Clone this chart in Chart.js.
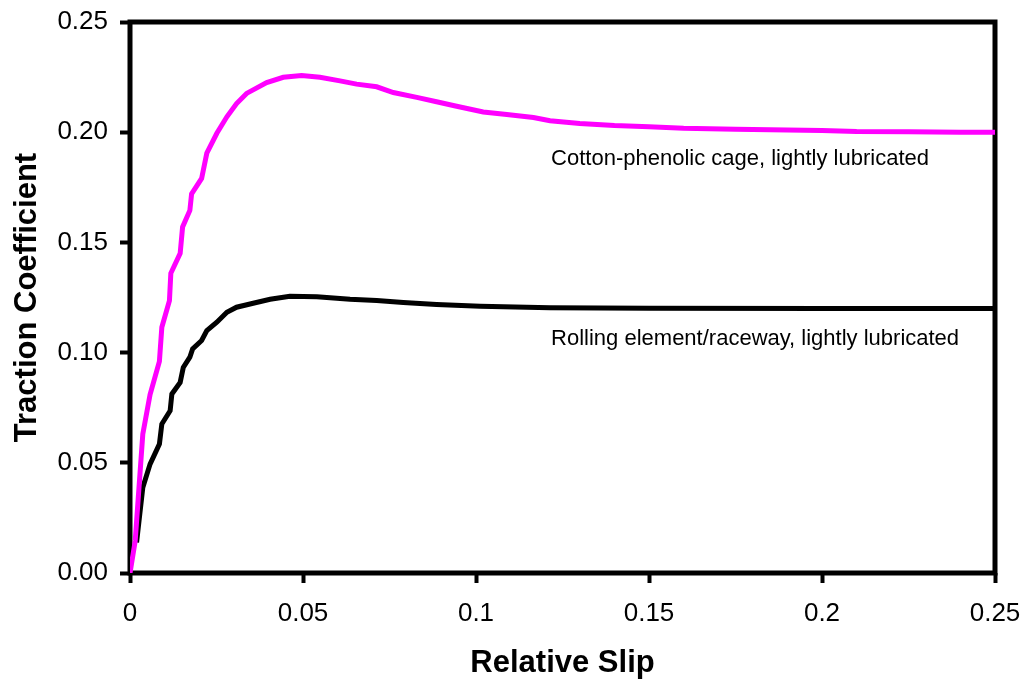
<!DOCTYPE html>
<html>
<head>
<meta charset="utf-8">
<script src="https://cdn.jsdelivr.net/npm/chart.js@4"></script>
<style>
  html, body { margin: 0; padding: 0; background: #fff; }
  #wrap { width: 1026px; height: 682px; }
</style>
</head>
<body>
<div id="wrap"><canvas id="traction"></canvas></div>
<script>
// Traction coefficient vs relative slip
var cageSlip = [0, 0.0015, 0.0037, 0.0058, 0.0085, 0.0092, 0.0114, 0.0118, 0.0145, 0.0152,
    0.0173, 0.0178, 0.0207, 0.0222, 0.0251, 0.028, 0.0308, 0.0337, 0.0395, 0.0443,
    0.0496, 0.0549, 0.0607, 0.0655, 0.0713, 0.0761, 0.0829, 0.0886, 0.0944, 0.1021,
    0.1089, 0.1166, 0.1214, 0.13, 0.14, 0.15, 0.16, 0.175, 0.19, 0.2, 0.21, 0.225, 0.24, 0.25];
var cageTraction = [0, 0.0145, 0.063, 0.081, 0.096, 0.1115, 0.1236, 0.136, 0.145, 0.157,
    0.1645, 0.172, 0.179, 0.1905, 0.1995, 0.207, 0.213, 0.2176, 0.2225, 0.2249,
    0.2257, 0.2249, 0.2233, 0.2218, 0.2206, 0.218, 0.2158, 0.2138, 0.2118, 0.2092,
    0.208, 0.2067, 0.2052, 0.204, 0.203, 0.2025, 0.2018, 0.2013, 0.201, 0.2008, 0.2003, 0.2002, 0.2, 0.2];

var racewaySlip = [0.0019, 0.0037, 0.0058, 0.0085, 0.0092, 0.0116, 0.0121, 0.0145, 0.0154,
    0.0173, 0.0181, 0.0207, 0.0222, 0.0251, 0.028, 0.0308, 0.0356, 0.0405, 0.0462,
    0.054, 0.0636, 0.0713, 0.079, 0.0886, 0.1012, 0.1214, 0.15, 0.2, 0.25];
var racewayTraction = [0.0138, 0.0388, 0.0494, 0.0585, 0.0676, 0.0736, 0.0812, 0.0865, 0.0933,
    0.0979, 0.1017, 0.1055, 0.11, 0.1138, 0.1183, 0.1206, 0.1224, 0.1242, 0.1256,
    0.1253, 0.1242, 0.1236, 0.1227, 0.1218, 0.121, 0.1203, 0.1201, 0.12, 0.12];

var curveLabels = ["Cotton-phenolic cage, lightly lubricated", "Rolling element/raceway, lightly lubricated"];
var labelSlip = [0.1217, 0.1217];
var labelTraction = [0.1877, 0.1064];

var xTicks = [0, 0.05, 0.1, 0.15, 0.2, 0.25];
var yTicks = [0, 0.05, 0.1, 0.15, 0.2, 0.25];

function toPoints(xs, ys) {
    return xs.map(function (x, i) { return { x: x, y: ys[i] }; });
}

// frame around the plot area (under the curves) and the curve captions
var framePlugin = {
    id: "frame",
    beforeDatasetsDraw: function (chart) {
        var a = chart.chartArea, ctx = chart.ctx;
        ctx.save();
        ctx.strokeStyle = "#000";
        ctx.lineWidth = 5;
        ctx.strokeRect(a.left, a.top, a.right - a.left, a.bottom - a.top);
        ctx.restore();
    },
    afterDatasetsDraw: function (chart) {
        var ctx = chart.ctx, xs = chart.scales.x, ys = chart.scales.y;
        ctx.save();
        ctx.fillStyle = "#000";
        ctx.font = "22px 'Liberation Sans', Arial, sans-serif";
        ctx.textAlign = "left";
        ctx.textBaseline = "middle";
        curveLabels.forEach(function (t, i) {
            ctx.fillText(t, xs.getPixelForValue(labelSlip[i]), ys.getPixelForValue(labelTraction[i]));
        });
        ctx.restore();
    }
};

var tickFont = { family: "'Liberation Sans', Arial, sans-serif", size: 26 };
var titleFont = { family: "'Liberation Sans', Arial, sans-serif", size: 31, weight: "bold" };

new Chart(document.getElementById("traction").getContext("2d"), {
    type: "line",
    data: {
        datasets: [
            {
                label: curveLabels[0],
                data: toPoints(cageSlip, cageTraction),
                borderColor: "#ff00ff",
                borderWidth: 5,
                pointRadius: 0,
                tension: 0,
            },
            {
                label: curveLabels[1],
                data: toPoints(racewaySlip, racewayTraction),
                borderColor: "#000000",
                borderWidth: 5,
                pointRadius: 0,
                tension: 0,
            },
        ],
    },
    options: {
        responsive: true,
        maintainAspectRatio: false,
        animation: false,
        layout: { padding: { top: 22, right: 31, left: 0, bottom: 0 } },
        plugins: { legend: { display: false }, tooltip: { enabled: false } },
        scales: {
            x: {
                type: "linear",
                min: 0,
                max: 0.25,
                afterFit: function (s) { s.height = 109; s.paddingLeft = 0; s.paddingRight = 0; },
                afterBuildTicks: function (s) { s.ticks = xTicks.map(function (v) { return { value: v }; }); },
                grid: { display: true, drawOnChartArea: false, tickLength: 10, tickWidth: 4, tickColor: "#000" },
                border: { display: false },
                ticks: {
                    color: "#000",
                    font: tickFont,
                    padding: 15,
                    maxRotation: 0,
                    callback: function (v) { return String(parseFloat(v.toFixed(2))); },
                },
                title: { display: true, text: "Relative Slip", color: "#000", font: titleFont, padding: { top: 0, bottom: 0 } },
            },
            y: {
                min: 0,
                max: 0.25,
                afterFit: function (s) { s.width = 130; s.paddingTop = 0; s.paddingBottom = 0; },
                afterBuildTicks: function (s) { s.ticks = yTicks.map(function (v) { return { value: v }; }); },
                grid: { display: true, drawOnChartArea: false, tickLength: 10, tickWidth: 4, tickColor: "#000" },
                border: { display: false },
                ticks: {
                    color: "#000",
                    font: tickFont,
                    padding: 12,
                    callback: function (v) { return v.toFixed(2); },
                },
                title: { display: true, text: "Traction Coefficient", color: "#000", font: titleFont, padding: { top: 9, bottom: 0 } },
            },
        },
    },
    plugins: [framePlugin],
});
</script>
</body>
</html>
